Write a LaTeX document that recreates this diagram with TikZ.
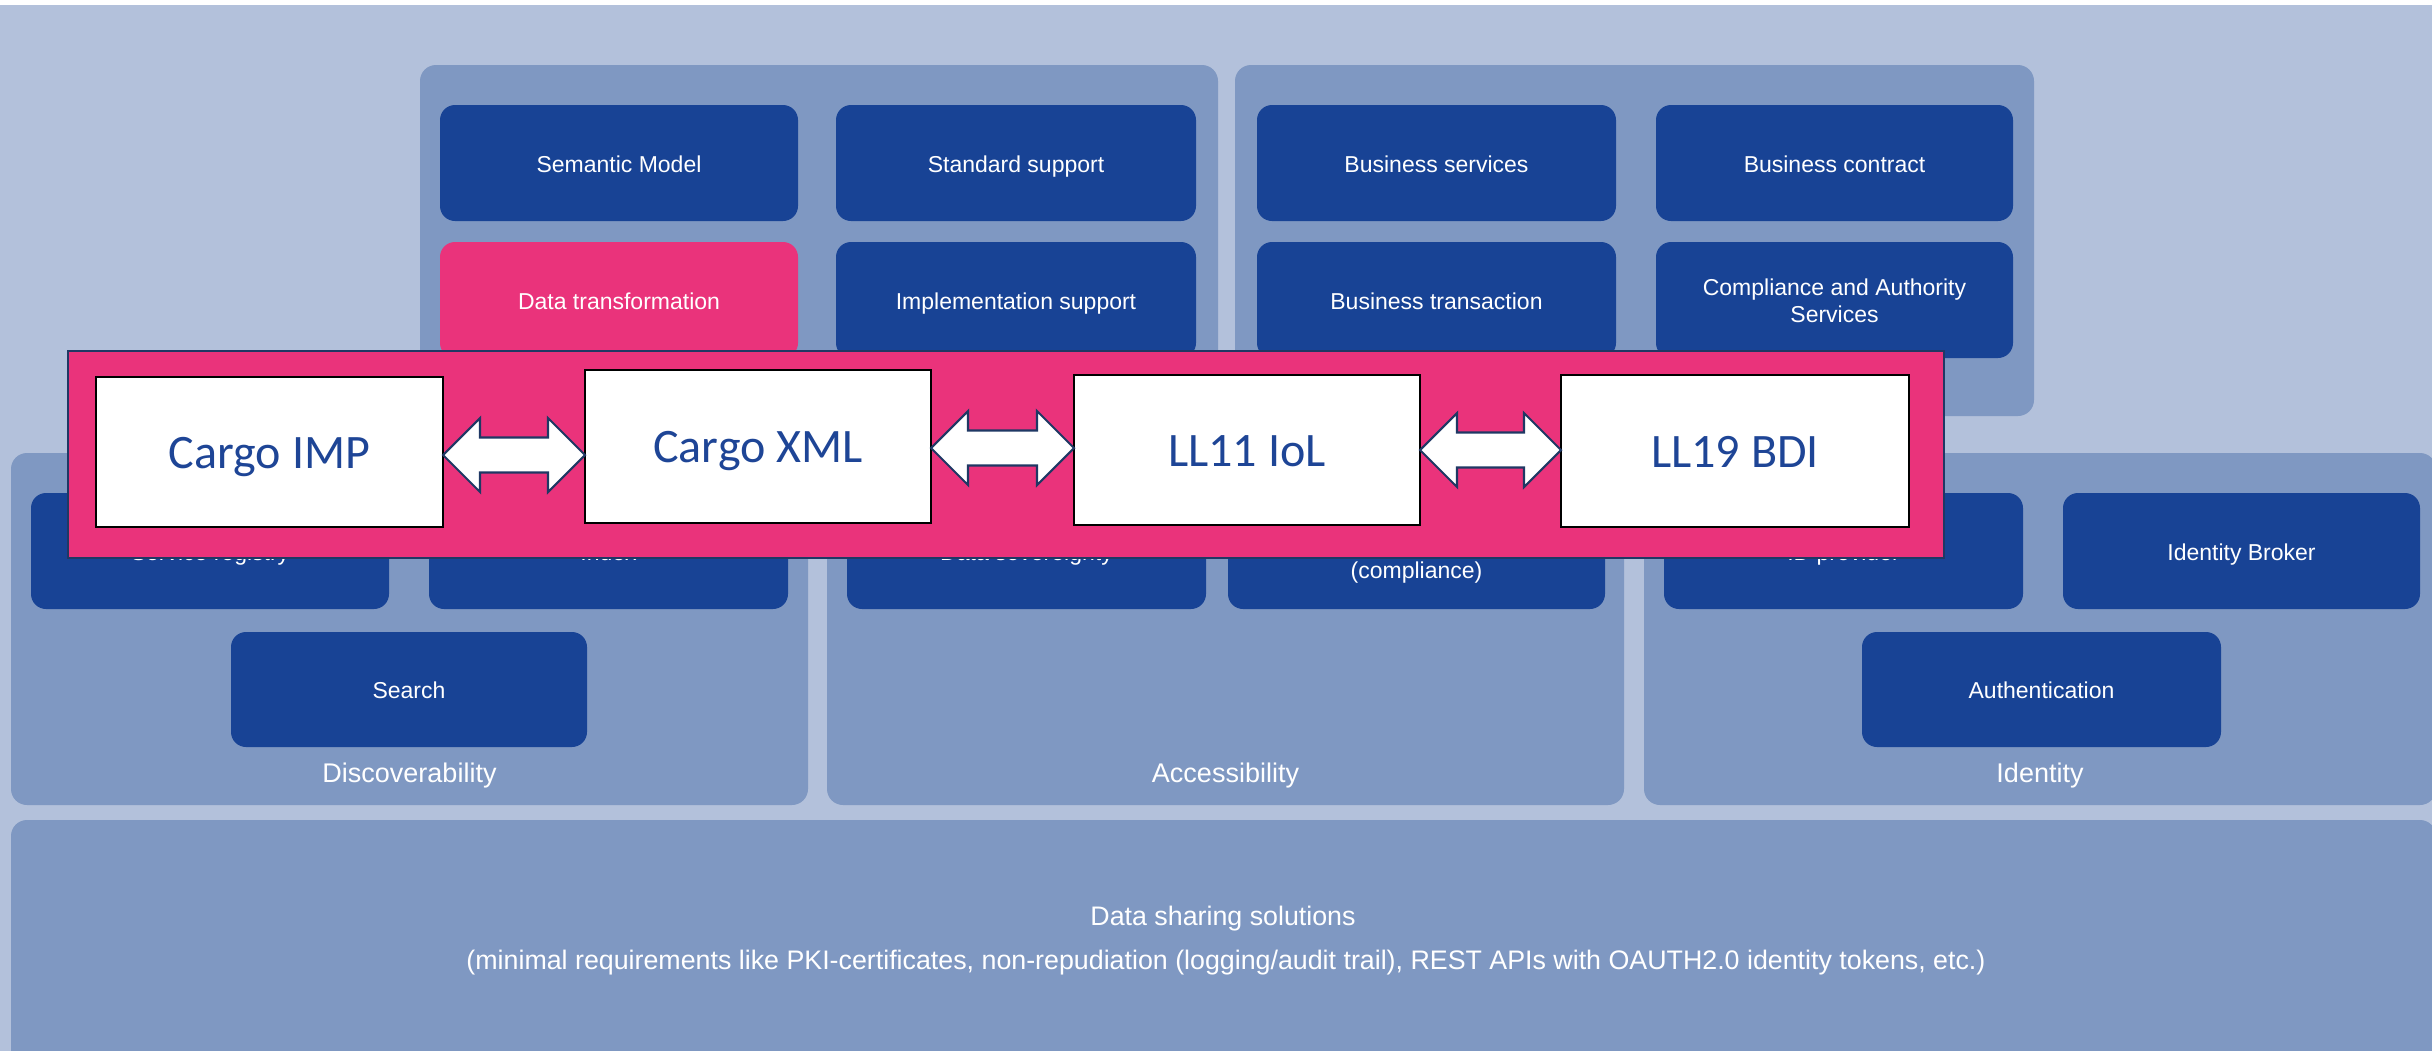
\documentclass[tikz,border=0pt]{standalone}
\usepackage{fontspec}
\setmainfont{Liberation Sans}
\newfontfamily\carlito{Carlito}
\usetikzlibrary{calc}
\definecolor{bglight}{HTML}{B3C1DB}
\definecolor{grpblue}{HTML}{7F98C2}
\definecolor{darkbox}{HTML}{184395}
\definecolor{pinkc}{HTML}{EA337B}
\definecolor{navyline}{HTML}{1F3864}
\definecolor{cargotext}{HTML}{1E4596}
\tikzset{
 grp/.style={fill=grpblue, draw=none, rounded corners=4.55pt, inner sep=0pt, outer sep=0pt},
 dbox/.style={fill=darkbox, draw=none, rounded corners=4.27pt, inner sep=0pt, outer sep=0pt, text=white, font=\fontsize{6.54pt}{7.7pt}\selectfont, text height=5.23pt, text depth=0pt, align=center},
 pbox/.style={dbox, fill=pinkc},
 wbox/.style={fill=white, draw=black, line width=0.71pt, inner sep=0pt, outer sep=0pt, text=cargotext, font=\carlito\fontsize{13.66pt}{16pt}\selectfont, text height=9.11pt, text depth=0pt},
 bandstyle/.style={fill=pinkc, draw=navyline, line width=0.71pt, inner sep=0pt, outer sep=0pt},
 barrow/.style={fill=white, draw=navyline, line width=0.6pt, line join=miter},
 glabel/.style={text=white, font=\fontsize{7.68pt}{9pt}\selectfont, anchor=base, inner sep=0pt},
 slabel/.style={text=white, font=\fontsize{6.54pt}{7.7pt}\selectfont, anchor=base, inner sep=0pt},
 dstext/.style={text=white, font=\fontsize{7.62pt}{9pt}\selectfont, anchor=base, inner sep=0pt},
}
% name, x1, y1, x2, y2, style, text
\newcommand\rbx[7]{\node[#6, minimum width={(#4-#2)*0.01cm}, minimum height={(#5-#3)*0.01cm}] (#1) at ({(#2+#4)/2},{(#3+#5)/2}) {#7};}
% left node, right node, y
\newcommand\dblarrow[3]{%
 \coordinate (ay) at (0,#3);
 \coordinate (al) at (#1.east |- ay);
 \coordinate (ar) at (#2.west |- ay);
 \draw[barrow] (al) -- ($(al)+(37,-37)$) -- ($(al)+(37,-17.5)$) -- ($(ar)+(-37,-17.5)$) -- ($(ar)+(-37,-37)$) -- (ar) -- ($(ar)+(-37,37)$) -- ($(ar)+(-37,17.5)$) -- ($(al)+(37,17.5)$) -- ($(al)+(37,37)$) -- cycle;}
\begin{document}
\begin{tikzpicture}[x=0.01cm, y=-0.01cm]
\useasboundingbox (0,0) rectangle (2432,1051);
\fill[white] (0,0) rectangle (2432,1051);
\fill[bglight] (0,5) rectangle (2432,1051);
% groups
\rbx{g1}{420}{65}{1218}{416}{grp}{}
\rbx{g2}{1235}{65}{2034}{416}{grp}{}
\rbx{gdisc}{11}{453}{808}{805}{grp}{}
\rbx{gacc}{827}{453}{1624}{805}{grp}{}
\rbx{gid}{1644}{453}{2436}{805}{grp}{}
\rbx{gds}{11}{820}{2436}{1070}{grp}{}
% upper boxes
\rbx{sem}{440}{105}{798}{221}{dbox}{Semantic Model}
\rbx{std}{836}{105}{1196}{221}{dbox}{Standard support}
\rbx{dtr}{440}{242}{798}{358}{pbox}{Data transformation}
\rbx{impl}{836}{242}{1196}{358}{dbox}{Implementation support}
\rbx{bsv}{1257}{105}{1616}{221}{dbox}{Business services}
\rbx{bct}{1656}{105}{2013}{221}{dbox}{Business contract}
\rbx{btr}{1257}{242}{1616}{358}{dbox}{Business transaction}
\rbx{cas}{1656}{242}{2013}{358}{dbox,text height=12.9pt}{Compliance and Authority\\Services}
% lower boxes
\rbx{sreg}{31}{493}{389}{609}{dbox}{Service registry}
\rbx{idx}{429}{493}{788}{609}{dbox}{Index}
\rbx{srch}{231}{632}{587}{747}{dbox}{Search}
\rbx{dsov}{847}{493}{1206}{609}{dbox}{Data sovereignty}
\rbx{comp}{1228}{493}{1605}{609}{dbox}{}
\rbx{idp}{1664}{493}{2023}{609}{dbox}{ID provider}
\rbx{ibrk}{2063}{493}{2420}{609}{dbox}{Identity Broker}
\rbx{auth}{1862}{632}{2221}{747}{dbox}{Authentication}
\node[slabel] (lcomp) at (1416.5,578) {(compliance)};
% group labels
\node[glabel] (ldisc) at (409.5,782) {Discoverability};
\node[glabel] (lacc) at (1225.5,782) {Accessibility};
\node[glabel] (lid) at (2040,782) {Identity};
\node[dstext] (ds1) at (1223,925) {Data sharing solutions};
\node[dstext] (ds2) at (1226,969) {(minimal requirements like PKI-certificates, non-repudiation (logging/audit trail), REST APIs with OAUTH2.0 identity tokens, etc.)};
% band
\rbx{band}{68}{351}{1944}{558}{bandstyle}{}
\rbx{imp}{96}{377}{443}{527}{wbox}{Cargo IMP}
\rbx{xml}{585}{370}{931}{523}{wbox}{Cargo XML}
\rbx{iol}{1074}{375}{1420}{525}{wbox}{LL11 IoL}
\rbx{bdi}{1561}{375}{1909}{527}{wbox}{LL19 BDI}
\dblarrow{imp}{xml}{455}
\dblarrow{xml}{iol}{448}
\dblarrow{iol}{bdi}{450}
\end{tikzpicture}
\end{document}
